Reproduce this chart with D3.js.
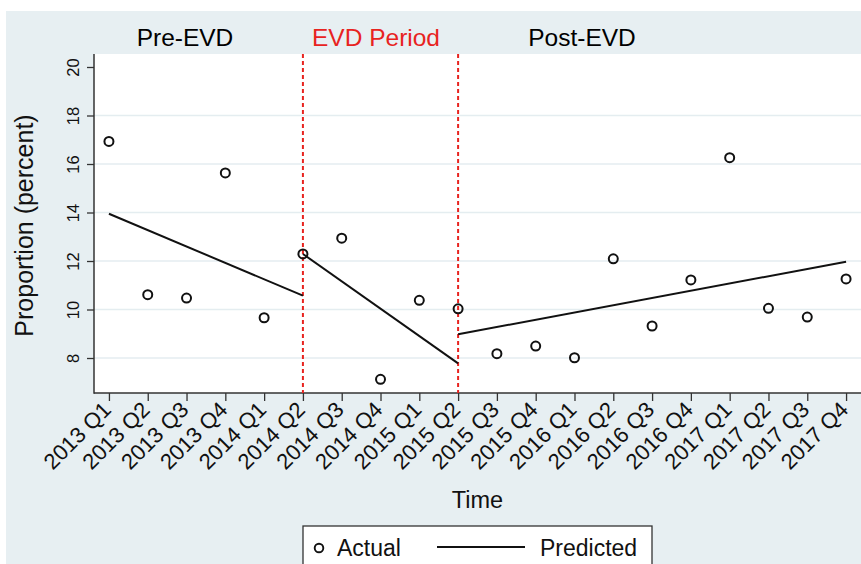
<!DOCTYPE html>
<head>
    <meta charset="utf-8">
    <title>Proportion over time, EVD periods</title>
    <script src="https://d3js.org/d3.v7.min.js"></script>
    <style>
        body { margin: 0; background: #fff; }
        text { font-family: "Liberation Sans", Arial, Helvetica, sans-serif; }
    </style>
</head>
<body>
<div id="container"></div>
<script>
    //------------------------------DATA------------------------------//
    var quarters = ["2013 Q1", "2013 Q2", "2013 Q3", "2013 Q4", "2014 Q1", "2014 Q2", "2014 Q3", "2014 Q4",
        "2015 Q1", "2015 Q2", "2015 Q3", "2015 Q4", "2016 Q1", "2016 Q2", "2016 Q3", "2016 Q4",
        "2017 Q1", "2017 Q2", "2017 Q3", "2017 Q4"];
    var actual = [16.93, 10.61, 10.47, 15.63, 9.66, 12.29, 12.94, 7.12, 10.38, 10.03,
        8.18, 8.49, 8.01, 12.09, 9.32, 11.22, 16.26, 10.05, 9.69, 11.26];
    // predicted segments: [start quarter, value] -> [end quarter, value]
    var predicted = [
        [["2013 Q1", 13.95], ["2014 Q2", 10.57]],
        [["2014 Q2", 12.29], ["2015 Q2", 7.78]],
        [["2015 Q2", 8.98], ["2017 Q4", 11.97]]
    ];
    var breaks = ["2014 Q2", "2015 Q2"];
    var periodLabels = ["Pre-EVD", "EVD Period", "Post-EVD"];
    var yTicks = [8, 10, 12, 14, 16, 18, 20];
    var gridTicks = [8, 10, 12, 14, 16, 18];

    //----------------------------LAYOUT------------------------------//
    var W = 861, H = 564;
    var plot = { left: 94, top: 54, right: 861, bottom: 393 };
    var red = "#e8231f";

    var svg = d3.select("#container").append("svg")
        .attr("width", W).attr("height", H);

    svg.append("rect")
        .attr("x", 6).attr("y", 11)
        .attr("width", W - 6).attr("height", H - 11)
        .style("fill", "#e7eff2");

    var xIdx = d3.scaleLinear().domain([-0.385, 19.385]).range([plot.left, plot.right]);
    var x = function (q) { return xIdx(quarters.indexOf(q)); };
    var y = d3.scaleLinear().domain([6.557, 20.536]).range([plot.bottom, plot.top]);

    svg.append("rect")
        .attr("x", plot.left).attr("y", plot.top)
        .attr("width", plot.right - plot.left).attr("height", plot.bottom - plot.top)
        .style("fill", "#fff");

    //-----------------------------GRID-------------------------------//
    svg.append("g").selectAll("line")
        .data(gridTicks).enter().append("line")
        .attr("x1", plot.left).attr("x2", plot.right)
        .attr("y1", function (d) { return y(d); })
        .attr("y2", function (d) { return y(d); })
        .style("stroke", "#e4edf0")
        .style("stroke-width", 1.5);

    //-----------------------------AXES-------------------------------//
    var yAxis = svg.append("g")
        .attr("transform", "translate(" + plot.left + ",0)")
        .call(d3.axisLeft(y).tickValues(yTicks).tickSize(7).tickSizeOuter(0));
    yAxis.select(".domain").remove();
    yAxis.selectAll(".tick line").style("stroke", "#333").style("stroke-width", 1.3);
    yAxis.selectAll(".tick text")
        .style("font-size", "16.5px").style("fill", "#111")
        .attr("x", 0).attr("dy", 0)
        .attr("transform", "translate(-15,0) rotate(-90)")
        .style("text-anchor", "middle");

    svg.append("line")
        .attr("x1", plot.left).attr("x2", plot.left)
        .attr("y1", plot.top).attr("y2", plot.bottom + 0.7)
        .style("stroke", "#333").style("stroke-width", 1.5);

    var xAxis = svg.append("g")
        .attr("transform", "translate(0," + plot.bottom + ")")
        .call(d3.axisBottom(xIdx).tickValues(d3.range(quarters.length))
            .tickFormat(function (i) { return quarters[i]; })
            .tickSize(8).tickSizeOuter(0));
    xAxis.select(".domain").remove();
    xAxis.selectAll(".tick line").style("stroke", "#333").style("stroke-width", 1.3);
    xAxis.selectAll(".tick text")
        .style("font-size", "22px").style("fill", "#111")
        .attr("y", 0).attr("dy", 0)
        .attr("transform", "translate(3,18) rotate(-45)")
        .style("text-anchor", "end");

    svg.append("line")
        .attr("x1", plot.left).attr("x2", plot.right)
        .attr("y1", plot.bottom).attr("y2", plot.bottom)
        .style("stroke", "#333").style("stroke-width", 1.5);

    svg.append("text")
        .attr("transform", "translate(33," + ((plot.top + plot.bottom) / 2 + 2) + ") rotate(-90)")
        .style("text-anchor", "middle")
        .style("font-size", "25px")
        .style("fill", "#111")
        .text("Proportion (percent)");

    svg.append("text")
        .attr("x", (plot.left + plot.right) / 2).attr("y", 508)
        .style("text-anchor", "middle")
        .style("font-size", "23.5px")
        .style("fill", "#111")
        .text("Time");

    //---------------------------PERIODS------------------------------//
    var labelX = [185, 376, 582];
    svg.append("g").selectAll("text")
        .data(periodLabels).enter().append("text")
        .attr("x", function (d, i) { return labelX[i]; })
        .attr("y", 46)
        .style("text-anchor", "middle")
        .style("font-size", "24.5px")
        .style("fill", function (d, i) { return i === 1 ? red : "#000"; })
        .text(function (d) { return d; });

    svg.append("g").selectAll("line")
        .data(breaks).enter().append("line")
        .attr("x1", function (d) { return x(d); })
        .attr("x2", function (d) { return x(d); })
        .attr("y1", plot.top).attr("y2", plot.bottom)
        .style("stroke", red)
        .style("stroke-width", 2)
        .style("stroke-dasharray", "4,3");

    //---------------------------PREDICTED----------------------------//
    var line = d3.line()
        .x(function (d) { return x(d[0]); })
        .y(function (d) { return y(d[1]); });

    svg.append("g").selectAll("path")
        .data(predicted).enter().append("path")
        .attr("d", line)
        .style("fill", "none")
        .style("stroke", "#111")
        .style("stroke-width", 2);

    //----------------------------ACTUAL------------------------------//
    svg.append("g").selectAll("circle")
        .data(actual).enter().append("circle")
        .attr("cx", function (d, i) { return xIdx(i); })
        .attr("cy", function (d) { return y(d); })
        .attr("r", 4.5)
        .style("fill", "none")
        .style("stroke", "#111")
        .style("stroke-width", 2);

    //----------------------------LEGEND------------------------------//
    var lg = svg.append("g").attr("transform", "translate(303,526)");
    lg.append("rect")
        .attr("x", 0).attr("y", 0).attr("width", 349).attr("height", 50)
        .style("fill", "#fff").style("stroke", "#333").style("stroke-width", 1.3);
    lg.append("circle")
        .attr("cx", 16).attr("cy", 22).attr("r", 4.3)
        .style("fill", "none").style("stroke", "#111").style("stroke-width", 1.9);
    lg.append("text")
        .attr("x", 34).attr("y", 30)
        .style("font-size", "23px").style("fill", "#111")
        .text("Actual");
    lg.append("line")
        .attr("x1", 134).attr("x2", 222).attr("y1", 21).attr("y2", 21)
        .style("stroke", "#111").style("stroke-width", 2);
    lg.append("text")
        .attr("x", 237).attr("y", 30)
        .style("font-size", "23px").style("fill", "#111")
        .text("Predicted");
</script>
</body>
